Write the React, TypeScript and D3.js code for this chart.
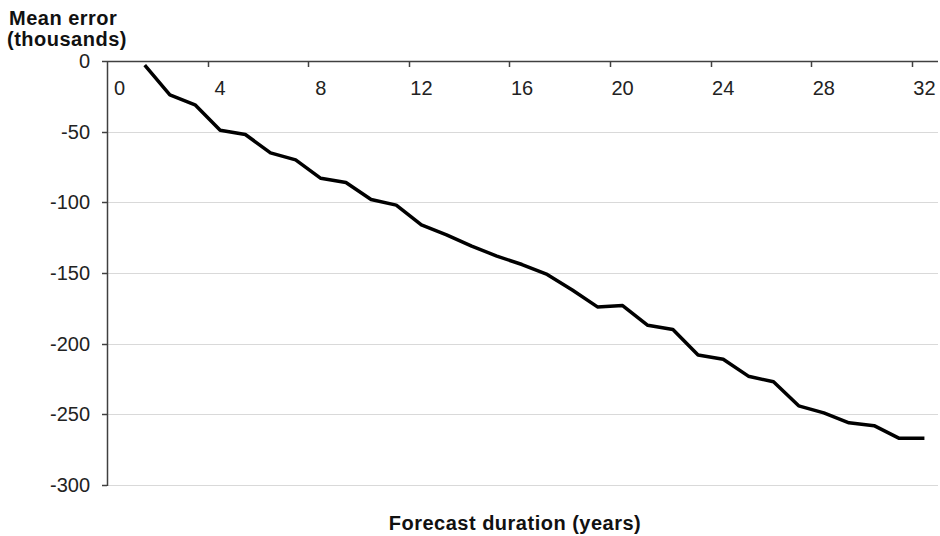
import * as d3 from "d3";
import { useEffect, useRef } from "react";

// forecast duration in years (categories 0..32)
const durations: number[] = d3.range(0, 33);
// mean error in thousands (no value for year 0)
const meanError: (number | null)[] = [
  null, -3, -24, -31, -49, -52, -65, -70, -83, -86, -98, -102, -116, -123,
  -131, -138, -144, -151, -162, -174, -173, -187, -190, -208, -211, -223,
  -227, -244, -249, -256, -258, -267, -267,
];
const yTicks: number[] = [0, -50, -100, -150, -200, -250, -300];
const xLabelEvery = 4;

const W = 940;
const H = 536;
const FONT = "'Liberation Sans', Arial, sans-serif";

export default function App() {
  const svgRef = useRef<SVGSVGElement>(null);

  useEffect(() => {
    document.body.style.margin = "0";
    const svg = d3.select(svgRef.current);
    svg.selectAll("*").remove();

    const left = 107;
    const right = 937;
    const top = 61;
    const bottom = 485;

    const x = d3
      .scaleBand<number>()
      .domain(durations)
      .range([left, right])
      .paddingInner(0)
      .paddingOuter(0);

    const y = d3.scaleLinear().domain([0, -300]).range([top, bottom]);

    // gridlines
    svg
      .append("g")
      .selectAll("line")
      .data(yTicks.filter((t) => t !== 0))
      .join("line")
      .attr("x1", left)
      .attr("x2", right + 1)
      .attr("y1", (d) => Math.round(y(d)) + 0.5)
      .attr("y2", (d) => Math.round(y(d)) + 0.5)
      .attr("stroke", "#d9d9d9")
      .attr("stroke-width", 1);

    // y axis
    const yAxis = svg.append("g");
    yAxis
      .append("line")
      .attr("x1", left + 0.5)
      .attr("x2", left + 0.5)
      .attr("y1", top)
      .attr("y2", bottom + 1)
      .attr("stroke", "#404040")
      .attr("stroke-width", 1.5);
    yAxis
      .selectAll("line.tick")
      .data(yTicks)
      .join("line")
      .attr("class", "tick")
      .attr("x1", left - 5)
      .attr("x2", left)
      .attr("y1", (d) => Math.round(y(d)) + 0.5)
      .attr("y2", (d) => Math.round(y(d)) + 0.5)
      .attr("stroke", "#404040")
      .attr("stroke-width", 1.5);
    yAxis
      .selectAll("text")
      .data(yTicks)
      .join("text")
      .attr("x", left - 17)
      .attr("y", (d) => y(d))
      .attr("dy", "0.35em")
      .attr("text-anchor", "end")
      .attr("font-family", FONT)
      .attr("font-size", 20)
      .attr("fill", "#222")
      .text((d) => String(d));

    // x axis along the top (zero line)
    const xAxis = svg.append("g");
    xAxis
      .append("line")
      .attr("x1", left)
      .attr("x2", right + 1)
      .attr("y1", Math.round(y(0)) + 0.5)
      .attr("y2", Math.round(y(0)) + 0.5)
      .attr("stroke", "#404040")
      .attr("stroke-width", 1.5);
    const tickCats = durations.filter((d) => d % xLabelEvery === 0);
    xAxis
      .selectAll("line.tick")
      .data(tickCats.filter((d) => d > 0))
      .join("line")
      .attr("class", "tick")
      .attr("x1", (d) => Math.round(x(d) as number) + 0.5)
      .attr("x2", (d) => Math.round(x(d) as number) + 0.5)
      .attr("y1", y(0))
      .attr("y2", y(0) + 6)
      .attr("stroke", "#404040")
      .attr("stroke-width", 1.5);
    xAxis
      .selectAll("text")
      .data(tickCats)
      .join("text")
      .attr("x", (d) => (x(d) as number) + x.bandwidth() / 2)
      .attr("y", y(0) + 27)
      .attr("dy", "0.35em")
      .attr("text-anchor", "middle")
      .attr("font-family", FONT)
      .attr("font-size", 20)
      .attr("fill", "#222")
      .text((d) => String(d));

    // line
    const line = d3
      .line<number | null>()
      .defined((d) => d !== null)
      .x((_, i) => (x(durations[i]) as number) + x.bandwidth() / 2)
      .y((d) => y(d as number));

    svg
      .append("path")
      .attr("d", line(meanError))
      .attr("fill", "none")
      .attr("stroke", "#000")
      .attr("stroke-width", 3.5)
      .attr("stroke-linejoin", "round");

    // axis titles
    const yTitle = svg
      .append("text")
      .attr("font-family", FONT)
      .attr("font-size", 20)
      .attr("font-weight", "bold")
      .attr("letter-spacing", 0.5)
      .attr("fill", "#111");
    yTitle.append("tspan").attr("x", 9).attr("y", 25).text("Mean error");
    yTitle.append("tspan").attr("x", 7).attr("y", 46).text("(thousands)");

    svg
      .append("text")
      .attr("x", 515)
      .attr("y", 530)
      .attr("text-anchor", "middle")
      .attr("font-family", FONT)
      .attr("font-size", 20)
      .attr("font-weight", "bold")
      .attr("letter-spacing", 0.5)
      .attr("fill", "#111")
      .text("Forecast duration (years)");
  }, []);

  return (
    <svg
      ref={svgRef}
      width={W}
      height={H}
      style={{ display: "block", background: "#fff" }}
    />
  );
}
